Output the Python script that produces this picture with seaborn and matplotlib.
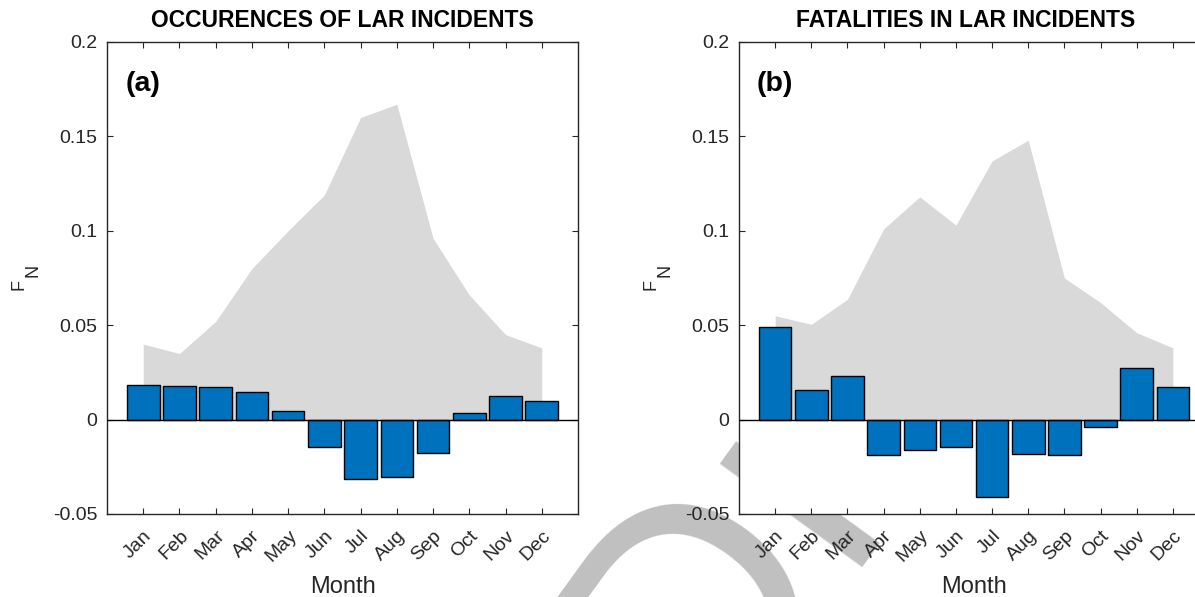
import matplotlib
matplotlib.use('Agg')
import matplotlib.pyplot as plt
import numpy as np
import pandas as pd
import seaborn as sns

# ---------------- data ----------------
months = ['Jan', 'Feb', 'Mar', 'Apr', 'May', 'Jun', 'Jul', 'Aug', 'Sep', 'Oct', 'Nov', 'Dec']
occ_clim = [0.040, 0.035, 0.052, 0.080, 0.100, 0.119, 0.160, 0.167, 0.096, 0.066, 0.045, 0.038]
occ_anom = [0.0181, 0.0180, 0.0172, 0.0144, 0.0045, -0.0144, -0.0313, -0.0305, -0.0177, 0.0036, 0.0126, 0.0098]
fat_clim = [0.055, 0.0505, 0.0637, 0.101, 0.118, 0.103, 0.137, 0.148, 0.075, 0.062, 0.046, 0.038]
fat_anom = [0.0489, 0.0158, 0.0230, -0.0189, -0.0163, -0.0146, -0.0412, -0.0181, -0.0189, -0.0037, 0.0275, 0.0175]
titles = ['OCCURENCES OF LAR INCIDENTS', 'FATALITIES IN LAR INCIDENTS']
panel_labels = ['(a)', '(b)']
yticks = [-0.05, 0, 0.05, 0.1, 0.15, 0.2]
ytick_labels = ['-0.05', '0', '0.05', '0.1', '0.15', '0.2']
xlabel = 'Month'
ylabel_main, ylabel_sub = 'F', 'N'
watermark = 'Draft'

# ---------------- style ----------------
sns.set_theme(style='white')
plt.rcParams['font.family'] = ['Liberation Sans', 'DejaVu Sans']

TXT = '#262626'
BAR = '#0072BD'
FILL = '#d9d9d9'

W, H = 1195, 597
fig = plt.figure(figsize=(W / 100, H / 100), dpi=100, facecolor='white')

# axes boxes in pixels (left, right, top, bottom)
boxes = [(107, 578, 42, 514), (739, 1209, 42, 514)]
title_shift = [0, -8]
clims = [occ_clim, fat_clim]
anoms = [occ_anom, fat_anom]

# watermark behind the axes
fig.text(697 / W, 1 - 757 / H, watermark, rotation=54, rotation_mode='anchor',
         ha='left', va='baseline', fontsize=240, color='#c0c0c0', zorder=-5)

for i, (l, r, t, b) in enumerate(boxes):
    ax = fig.add_axes([l / W, 1 - b / H, (r - l) / W, (b - t) / H])
    ax.set_facecolor('white')
    ax.set_zorder(1)
    df = pd.DataFrame({'month': months, 'value': anoms[i]})
    sns.barplot(data=df, x='month', y='value', order=months, color=BAR, saturation=1,
                edgecolor='black', linewidth=1.0, width=0.9, ax=ax, zorder=2)
    ax.fill_between(np.arange(len(months)), 0, clims[i], color=FILL, lw=0, zorder=0.5)
    ax.axhline(0, color='black', lw=1.0, zorder=3)

    ax.set_xlim(-1, 12)
    ax.set_ylim(-0.05, 0.2)
    ax.set_yticks(yticks)
    ax.set_yticklabels(ytick_labels)
    ax.set_xticks(np.arange(len(months)))
    ax.set_xticklabels(months, rotation=45, ha='right', va='top', rotation_mode='anchor')
    ax.tick_params(axis='both', direction='in', length=4, width=0.8, color=TXT,
                   labelsize=14, labelcolor=TXT, top=True, right=True,
                   bottom=True, left=True)
    ax.tick_params(axis='x', pad=9.5)
    ax.tick_params(axis='y', pad=7)
    for s in ax.spines.values():
        s.set_color(TXT)
        s.set_linewidth(1.0)
        s.set_visible(True)
    ax.set_xlabel('')
    ax.set_ylabel('')
    ax.text(0.5, -(593 - 514) / (b - t), xlabel, transform=ax.transAxes, ha='center',
            va='baseline', fontsize=17, color=TXT)
    ax.text(0.5 + title_shift[i] / (r - l), 1 + (42 - 26.7) / (b - t), titles[i],
            transform=ax.transAxes, ha='center', va='baseline', fontsize=16.5,
            fontweight='bold', color='black')
    ax.text(0, 0.178, panel_labels[i], ha='center', va='center', fontsize=20.5,
            fontweight='bold', color='black', zorder=4)
    # y label F with subscript N (MATLAB style)
    fig.text((l - 88) / W, 1 - 284 / H, ylabel_main, rotation=90, ha='center', va='center',
             fontsize=13, color=TXT)
    fig.text((l - 74) / W, 1 - 270 / H, ylabel_sub, rotation=90, ha='center', va='center',
             fontsize=13, color=TXT)

fig.savefig('out.png', dpi=100, facecolor='white')
